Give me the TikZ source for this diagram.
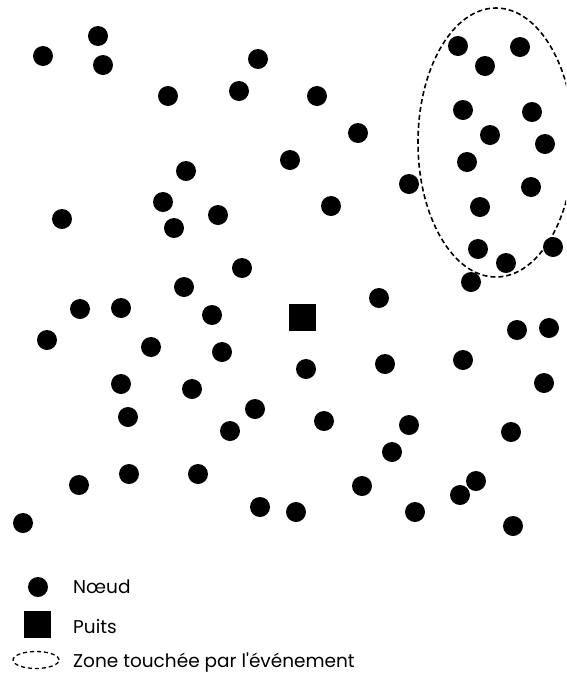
\documentclass[tikz,border=0pt]{standalone}
\usepackage{fontspec}
\setmainfont{Poppins}[Ligatures=TeXOff]
\usetikzlibrary{shapes.geometric}
\begin{document}
\begin{tikzpicture}[x=1pt,y=-1pt,
  dot/.style={circle,fill=black,draw=none,minimum size=20pt,inner sep=0pt},
  sink/.style={rectangle,fill=black,draw=none,minimum size=27pt,inner sep=0pt},
  zone/.style={draw=black,dash pattern=on 5pt off 3pt,line width=1.6pt},
  legtext/.style={anchor=base west,font=\fontsize{18.5}{22}\selectfont,inner sep=0pt}]
\useasboundingbox (0,0) rectangle (566,673);
\begin{scope}
\clip (0,0) rectangle (566,673);
\foreach \i/\x/\y in {
 1/43/56, 2/98/36, 3/103/65, 4/168/96, 5/239/91, 6/258/59, 7/186/171, 8/163/202,
 9/174/228, 10/218/215, 11/62/219, 12/242/268, 13/317/96, 14/358/133, 15/290/160,
 16/331/206, 17/409/184, 18/458/46, 19/520/47, 20/485/66, 21/463/110, 22/532/112,
 23/490/135, 24/545/144, 25/467/162, 26/531/187, 27/480/207, 28/478/249, 29/506/263,
 30/553/247, 31/471/282, 32/184/287, 33/80/309, 34/121/308, 35/212/315, 36/47/340,
 37/151/347, 38/222/352, 39/121/384, 40/192/389, 41/128/417, 42/255/409, 43/230/431,
 44/129/474, 45/198/474, 46/79/485, 47/260/507, 48/23/523, 49/379/298, 50/517/330,
 51/549/328, 52/306/369, 53/385/364, 54/463/360, 55/544/383, 56/324/421, 57/409/425,
 58/392/452, 59/511/432, 60/362/486, 61/476/481, 62/460/495, 63/296/512, 64/415/512,
 65/513/526}
 { \node[dot] (n\i) at (\x,\y) {}; }
\node[sink] (puits) at (302,317) {};
\node[zone,ellipse,minimum width=156pt,minimum height=269pt,inner sep=0pt] (zonenode) at (496,142.5) {};
\end{scope}
% legend
\node[dot] (legdot) at (38,587) {};
\node[legtext] (legdottxt) at (73,593) {Nœud};
\node[sink] (legsink) at (37,624) {};
\node[legtext] (legsinktxt) at (73,633) {Puits};
\node[zone,ellipse,minimum width=46pt,minimum height=17pt,inner sep=0pt,line width=1.3pt,dash pattern=on 4pt off 3pt] (legzone) at (36,660) {};
\node[legtext] (legzonetxt) at (73,667) {Zone touchée par l'événement};
\end{tikzpicture}
\end{document}
